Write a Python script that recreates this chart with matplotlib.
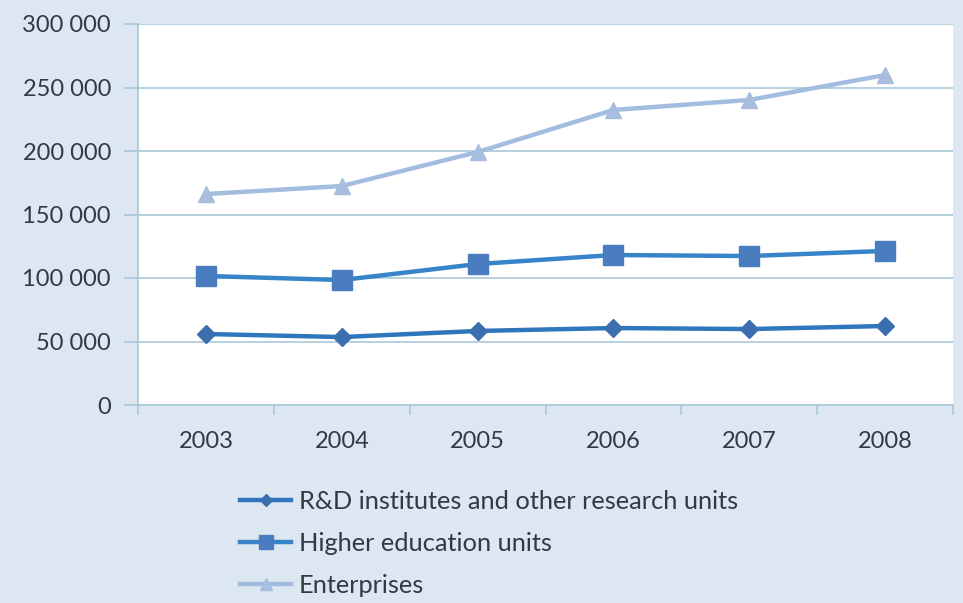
import matplotlib.pyplot as plt
from matplotlib.ticker import FuncFormatter, FixedLocator

years = ["2003", "2004", "2005", "2006", "2007", "2008"]
rnd_institutes = [55900, 53500, 58300, 60600, 59800, 62200]
higher_education = [101600, 98400, 111000, 118100, 117300, 121300]
enterprises = [166100, 172400, 199200, 232300, 240200, 259800]

BG = "#dce7f2"
GRID = "#a9c8d8"
TEXT = "#2f3a44"

plt.rcParams["font.family"] = ["Lato", "DejaVu Sans"]

fig = plt.figure(figsize=(9.63, 6.03), dpi=100, facecolor=BG)
ax = fig.add_axes([138 / 963, 1 - 405 / 603, 815 / 963, 381 / 603])
ax.set_facecolor("white")

x = list(range(len(years)))
ax.plot(x, rnd_institutes, color="#2f77bd", lw=3.2, marker="D", ms=9,
        markerfacecolor="#3b6fb0", markeredgecolor="#3b6fb0",
        label="R&D institutes and other research units", zorder=3)
ax.plot(x, higher_education, color="#3784c9", lw=3.2, marker="s", ms=14,
        markerfacecolor="#4a7dc0", markeredgecolor="#4a7dc0",
        label="Higher education units", zorder=3)
ax.plot(x, enterprises, color="#a3bde0", lw=3.2, marker="^", ms=12,
        markerfacecolor="#a9bedf", markeredgecolor="#a9bedf",
        label="Enterprises", zorder=3)

ax.set_xlim(-0.5, len(years) - 0.5)
ax.set_ylim(0, 300000)
ax.set_yticks(range(0, 300001, 50000))
ax.yaxis.set_major_formatter(FuncFormatter(lambda v, _: f"{int(v):,}".replace(",", " ")))
ax.set_xticks(x)
ax.set_xticklabels(years)
ax.xaxis.set_minor_locator(FixedLocator([i + 0.5 for i in range(-1, len(years))]))

ax.grid(axis="y", color=GRID, lw=1.2)
ax.set_axisbelow(True)
for side in ["top", "right"]:
    ax.spines[side].set_visible(False)
for side in ["left", "bottom"]:
    ax.spines[side].set_color(GRID)
    ax.spines[side].set_linewidth(1.2)

ax.tick_params(axis="y", length=10, color=GRID, width=1.2, labelsize=17,
               labelcolor=TEXT, pad=9.5)
ax.tick_params(axis="x", which="major", length=0, labelsize=17,
               labelcolor=TEXT, pad=19)
ax.tick_params(axis="x", which="minor", length=7, color=GRID, width=1.2)

leg = fig.legend(loc="upper left", bbox_to_anchor=(230 / 963, 1 - 480 / 603),
                 frameon=False, fontsize=18.3, handlelength=2.0,
                 handletextpad=0.3, labelspacing=0.74, borderaxespad=0)
for t in leg.get_texts():
    t.set_color(TEXT)
for h in leg.legend_handles:
    h.set_markersize(h.get_markersize() * 0.7)

fig.savefig("out.png", dpi=100, facecolor=BG)
